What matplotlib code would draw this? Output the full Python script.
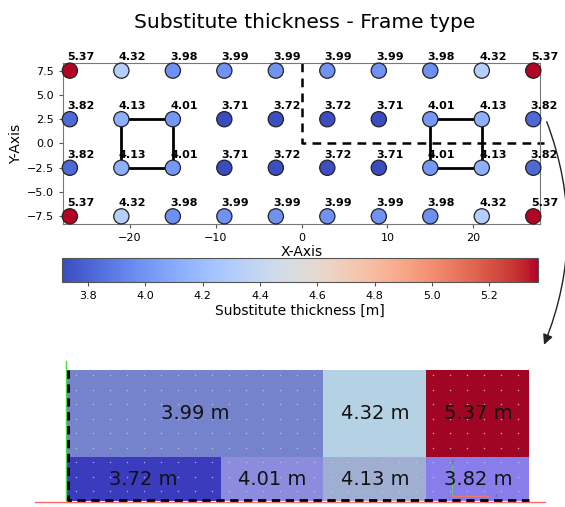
import numpy as np
import matplotlib.pyplot as plt
from matplotlib.patches import Rectangle, FancyArrowPatch
from matplotlib.colors import Normalize

# column positions and row positions of the supports
x_pos = [-27, -21, -15, -9, -3, 3, 9, 15, 21, 27]
y_pos = [7.5, 2.5, -2.5, -7.5]

# substitute thickness per support, one list per row
row_top = [5.37, 4.32, 3.98, 3.99, 3.99, 3.99, 3.99, 3.98, 4.32, 5.37]
row_mid_up = [3.82, 4.13, 4.01, 3.71, 3.72, 3.72, 3.71, 4.01, 4.13, 3.82]
row_mid_low = [3.82, 4.13, 4.01, 3.71, 3.72, 3.72, 3.71, 4.01, 4.13, 3.82]
row_bottom = [5.37, 4.32, 3.98, 3.99, 3.99, 3.99, 3.99, 3.98, 4.32, 5.37]
rows = [row_top, row_mid_up, row_mid_low, row_bottom]

# zones of the quarter model (x0, x1, y0, y1, value, colour)
zone_x0 = [0, 2.5, 3.5, 0, 1.5, 2.5, 3.5]
zone_x1 = [2.5, 3.5, 4.5, 1.5, 2.5, 3.5, 4.5]
zone_y0 = [1, 1, 1, 0, 0, 0, 0]
zone_y1 = [3, 3, 3, 1, 1, 1, 1]
zone_val = [3.99, 4.32, 5.37, 3.72, 4.01, 4.13, 3.82]
zone_col = ['#7582cc', '#b5d2e4', '#a00623', '#3b3bbe', '#8c8cde', '#a0aed2', '#877deb']

X, Y = np.meshgrid(x_pos, y_pos)
V = np.array(rows)

fig = plt.figure(figsize=(5.65, 5.07), dpi=100)
ax = fig.add_axes([0.1115, 0.558, 0.8445, 0.318])
norm = Normalize(vmin=V.min(), vmax=V.max())
sc = ax.scatter(X.ravel(), Y.ravel(), c=V.ravel(), cmap='coolwarm', norm=norm,
                s=120, edgecolors='#222222', linewidths=0.9, zorder=3, clip_on=False)
for xi, yi, v in zip(X.ravel(), Y.ravel(), V.ravel()):
    ax.text(xi - 0.3, yi + 0.85, f'{v:.2f}', fontsize=8, fontweight='bold',
            ha='left', va='bottom', clip_on=False, zorder=4)

# the two cores
for cx in (-21, 15):
    ax.add_patch(Rectangle((cx, -2.5), 6, 5, fill=False, lw=2, ec='black', zorder=2))
# quarter boundary
ax.plot([0, 0, 28.2], [8.3, 0, 0], ls=(0, (3.5, 2.5)), color='black', lw=1.8,
        clip_on=False, zorder=2)

ax.set_xlim(-27.8, 27.8)
ax.set_ylim(-8.3, 8.3)
ax.set_xticks([-20, -10, 0, 10, 20])
ax.set_yticks([7.5, 5.0, 2.5, 0.0, -2.5, -5.0, -7.5])
ax.tick_params(labelsize=8, length=3, color='#555555')
for sp in ax.spines.values():
    sp.set_color('#777777')
ax.set_xlabel('X-Axis', fontsize=10, labelpad=1)
ax.set_ylabel('Y-Axis', fontsize=10, labelpad=3)
fig.text(0.54, 0.955, 'Substitute thickness - Frame type', fontsize=14.6, ha='center', va='center')

cax = fig.add_axes([0.11, 0.444, 0.842, 0.047])
cb = fig.colorbar(sc, cax=cax, orientation='horizontal')
cb.set_ticks([3.8, 4.0, 4.2, 4.4, 4.6, 4.8, 5.0, 5.2])
cb.ax.tick_params(labelsize=8, length=3, color='#555555')
cb.outline.set_edgecolor('#555555')
cb.set_label('Substitute thickness [m]', fontsize=10, labelpad=2)

# quarter model view
iax = fig.add_axes([0.117, 0.012, 0.82, 0.258])
for x0, x1, y0, y1, v, c in zip(zone_x0, zone_x1, zone_y0, zone_y1, zone_val, zone_col):
    iax.add_patch(Rectangle((x0, y0), x1 - x0, y1 - y0, fc=c, ec='none'))
    iax.text((x0 + x1) / 2, (y0 + y1) / 2, f'{v:.2f} m', fontsize=14,
             ha='center', va='center', color='#111111')
gx, gy = np.meshgrid(np.arange(0.1, 4.5, 0.165), np.arange(0.22, 3.05, 0.333))
iax.scatter(gx.ravel(), gy.ravel(), s=1.2, color='#c8c8d4', alpha=0.8, lw=0, zorder=1.5)
iax.plot([0, 0], [0, 3.2], color='#44dd44', lw=1, clip_on=False)
iax.plot([-0.3, 4.65], [-0.02, -0.02], color='#ff6666', lw=1, clip_on=False)
iax.plot([0.02, 0.02, 4.5], [3, 0.02, 0.02], ls=(0, (3, 2)), color='black', lw=2,
         clip_on=False)
# small axis triad
iax.plot([3.75, 3.75], [0.12, 0.8], color='#66cc66', lw=0.6)
iax.plot([3.75, 4.1], [0.12, 0.12], color='#ee7766', lw=0.8)
iax.text(3.75, 0.86, 'y', fontsize=4, ha='center', color='#666666')
iax.text(4.16, 0.12, 'x', fontsize=4, va='center', color='#666666')
iax.set_xlim(0, 4.5)
iax.set_ylim(0, 3)
iax.axis('off')

# arrow from the corner region to the detail view
fig.add_artist(FancyArrowPatch(
    (0.966, 0.765), (0.961, 0.315), transform=fig.transFigure,
    connectionstyle='arc3,rad=-0.2', arrowstyle='-|>,head_length=6,head_width=3',
    color='#222222', lw=1))

fig.savefig('out.png', dpi=100)
